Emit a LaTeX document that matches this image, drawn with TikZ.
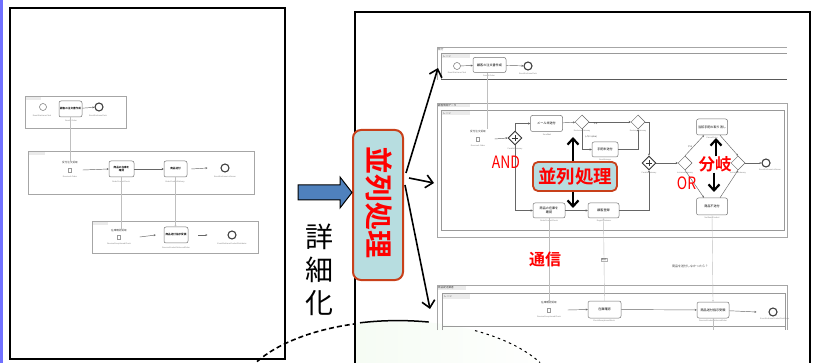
\documentclass[tikz,border=0pt]{standalone}
\usepackage{fontspec}
\setmainfont{Liberation Sans}
\newfontfamily\cjk{Noto Sans CJK JP}[BoldFont={Noto Sans CJK JP Bold}]
\usetikzlibrary{shapes.geometric,arrows.meta,calc}
\definecolor{boxfill}{RGB}{183,221,224}
\definecolor{boxline}{RGB}{200,64,26}
\definecolor{blockblue}{RGB}{79,129,189}
\definecolor{edgeblue}{RGB}{112,112,255}
\definecolor{lensgreen}{RGB}{243,251,241}
\newcommand\andplus[1]{\draw[line width=0.8pt,black!80] ([xshift=-3.2pt]#1.center) -- ([xshift=3.2pt]#1.center) ([yshift=-3.2pt]#1.center) -- ([yshift=3.2pt]#1.center);}
\tikzset{
  bpool/.style={draw=black!35,line width=0.6pt},
  blane/.style={draw=black!40,line width=0.5pt},
  btab/.style={fill=black!8},
  btask/.style={draw=black!55,rounded corners=2pt,fill=white,line width=0.5pt,inner sep=0pt,align=center,font=\cjk\fontsize{3.1}{3.6}\selectfont},
  btaskL/.style={btask,font=\cjk\bfseries\fontsize{2.6}{3}\selectfont},
  bev/.style={circle,draw=black!55,minimum size=7pt,inner sep=0pt,line width=0.5pt,fill=white},
  bevend/.style={bev,minimum size=8pt,line width=1.1pt,draw=black!75},
  bmsgev/.style={draw=black!40,minimum width=3pt,minimum height=4pt,inner sep=0pt},
  bgw/.style={diamond,draw=black!60,minimum size=14pt,inner sep=0pt,fill=white,line width=0.5pt},
  bgwand/.style={bgw,line width=0.9pt,draw=black!80},
  bflow/.style={draw=black!60,line width=0.45pt,-{Stealth[length=2pt,width=2pt]}},
  bmsg/.style={draw=black!25,line width=0.4pt},
  blbl/.style={font=\fontsize{2}{2.4}\selectfont,text=black!50,inner sep=0pt},
  bjp/.style={font=\cjk\fontsize{2.6}{3}\selectfont,text=black!75,inner sep=0pt},
  redtxt/.style={text=red,inner sep=0pt},
  bigarr/.style={draw=black,line width=1.6pt,-{Straight Barb[length=7pt,width=13pt]}},
  thkarr/.style={draw=black,line width=2.2pt,-{Straight Barb[length=6pt,width=11pt]}},
  panel/.style={draw=black,line width=2.4pt}
}
\begin{document}
\begin{tikzpicture}[x=1pt,y=-1pt]
\useasboundingbox (0,0) rectangle (816,363);
\fill[white] (0,0) rectangle (816,363);
\fill[edgeblue] (0,0) rectangle (3,363);

% ===== lens (green area) =====
\begin{scope}
\clip (356,322) rectangle (809,363);
\clip (398,401) ellipse [x radius=162, y radius=80];
\shade[left color=lensgreen,right color=white] (300,321) rectangle (560,482);
\end{scope}

% ===== left panel =====
\draw[panel] (10,8) rectangle (285,359);

% pool 1
\draw[bpool] (25,96) rectangle (126,128);
\fill[btab] (26,97) rectangle (41,100);
\node[bev] (Ls1) at (43,107) {};
\node[blbl] at (42,116) {EventStartLaneClerk};
\node[btaskL,minimum width=23pt,minimum height=16pt] (Lt1) at (70.5,109) {顧客の注文書作成};
\node[blbl] at (71,121) {SendA Order};
\node[bevend] (Le1) at (99,107) {};
\node[blbl] at (98,116) {EventEndLaneClerk};
\draw[bflow] (Lt1) -- (Le1);

% pool 2
\draw[bpool] (28,151) rectangle (254,194);
\fill[btab] (29,152) rectangle (45,155);
\node[bjp] (Ls2t) at (70,163) {受付注文受取};
\node[bmsgev] (Ls2) at (70,170) {};
\node[blbl] at (70,177) {ReceiveA Order};
\node[btaskL,minimum width=25pt,minimum height=16pt] (Lt2) at (121.5,169) {商品の在庫を\\確認};
\node[blbl] at (121,182) {OrderProductCheck};
\node[btaskL,minimum width=23pt,minimum height=16pt] (Lt3) at (175.5,169) {商品送付};
\node[blbl] at (175,182) {OrderProductDelivery};
\node[bevend] (Le2) at (225,168) {};
\node[blbl] at (225,177) {EventEndLaneLotServer};
\draw[bflow] ($(Ls2.east)+(11,0)$) -- (Lt2.west);
\draw[bflow] (Lt2) -- (Lt3);
\draw[bflow] ([xshift=4pt]Lt3.east) -- ([xshift=-13pt]Le2.west);

% pool 3
\draw[bpool] (92,221) rectangle (258,253);
\fill[btab] (93,222) rectangle (108,225);
\node[bjp] (Ls3t) at (119,231) {在庫確認受取};
\node[bmsgev] (Ls3) at (119,237) {};
\node[blbl] at (119,244) {ReceiveExceptionedCheck};
\node[btaskL,minimum width=24pt,minimum height=16pt] (Lt4) at (176,235) {商品送付指示受領};
\node[blbl] at (176,248) {ReceiveProductDeliveredOrder};
\node[bevend] (Le3) at (232,235) {};
\node[blbl] at (232,244) {EventEndLaneProductDistributor};
\draw[bflow] ($(Ls3.east)+(19,0)$) -- ([xshift=-8pt]Lt4.west);
\draw[bflow] ([xshift=10pt]Lt4.east) -- ([xshift=-20pt]Le3.west);

% message flows (left)
\draw[bmsg] (Lt1.south) -- (Lt1.south |- Ls2t.north);
\draw[bmsg] (Lt2.south) -- (Lt2.south |- Ls3t.north);
\draw[bmsg,-{Stealth[length=1.5pt,width=1.5pt]}] (Lt3.south) -- (Lt3.south |- Lt4.north);

% ===== right panel =====
\draw[panel] (355,12) rectangle (810,372);

% top pool
\draw[bpool] (437,47) -- (787,47);
\draw[bpool] (437,47) -- (437,80);
\draw[blane] (441,53) -- (787,53);
\draw[blane] (441,53) -- (441,79);
\draw[black!65,line width=0.8pt] (441,79) -- (787,79);
\node[bjp,anchor=west] at (438,50) {発行};
\fill[btab] (442,54) rectangle (470,58.5);
\node[bjp,anchor=west] at (443,56.2) {レーン};
\node[bev] (Rs1) at (457,66) {};
\node[blbl] at (457,73) {EventStartLaneClerk};
\node[btask,minimum width=33pt,minimum height=15pt] (Rt1) at (489.5,65) {顧客の注文書作成};
\node[blbl] at (489,76) {SendA Order};
\node[bevend] (Re1) at (528,66) {};
\node[blbl] at (528,74) {EventEndLaneClerk};
\draw[bflow] (Rs1) -- (Rt1);
\draw[bflow] (Rt1) -- (Re1);

% middle pool
\draw[bpool] (437,103) -- (787,103) -- (787,237) -- (437,237) -- cycle;
\draw[blane] (441,110) rectangle (784,230);
\fill[btab] (438,104) rectangle (470,107.5);
\node[bjp,anchor=west] at (438,105.8) {顧客情報データ};
\fill[btab] (442,111) rectangle (470,115.5);
\node[bjp,anchor=west] at (443,113.2) {レーン};
\node[bjp] (Rs2t) at (478,132) {受付注文受取};
\node[bmsgev] (Rs2) at (478,139) {};
\node[blbl] at (478,146) {ReceiveA Order};
\node[bgwand] (Rg1) at (515,138) {};
\andplus{Rg1}
\node[blbl] at (515,148.5) {ParallelGateway};
\draw[bflow] ($(Rs2.east)+(15,0)$) -- (Rg1.west);
\node[btask,minimum width=32pt,minimum height=16pt] (Rt2) at (546.5,123.5) {メール未送付};
\node[blbl] at (547,135) {SendMail};
\draw[bflow] (Rg1.north) |- (Rt2.west);
\node[bgw] (Rg2) at (582,122) {};
\node[blbl] at (582,131) {ExclusiveGateway};
\draw[bflow] (Rt2) -- (Rg2);
\node[bgw] (Rg3) at (638,122) {};
\node[blbl] at (638,131) {ExclusiveGateway};
\draw[bflow] (Rg2) -- node[bjp,pos=0.15,below=1pt,font=\cjk\fontsize{2.2}{2.4}\selectfont] {する} (Rg3);
\node[btask,minimum width=26pt,minimum height=15pt] (Rt3) at (605,149.5) {手配未送付};
\node[blbl] at (605,160) {SendArrange};
\draw[bflow] (Rg2.south) |- (Rt3.west);
\node[bjp,font=\cjk\fontsize{2.2}{2.4}\selectfont] at (591,137) {しない(else)};
\draw[bflow] (Rt3.east) -| (Rg3.south);
\node[bgwand] (Rg4) at (649,163) {};
\andplus{Rg4}
\node[blbl] at (649,173) {ParallelGateway};
\draw[bflow] (Rg3.east) -| (Rg4.north);
\node[btask,minimum width=32pt,minimum height=15pt] (Rt4) at (549,210.5) {商品の在庫を\\確認};
\node[blbl] at (549,221) {OrderProductCheck};
\draw[bflow] (Rg1.south) |- (Rt4.west);
\node[btask,minimum width=31pt,minimum height=15pt] (Rt5) at (603.5,210.5) {顧客登録};
\node[blbl] at (604,221) {RegistCustomer};
\draw[bflow] (Rt4) -- (Rt5);
\draw[bflow] (Rt5.east) -| (Rg4.south);
\node[bgw] (Rg5) at (685,163) {};
\node[blbl] at (685,173) {InclusiveGateway};
\draw[bflow] (Rg4) -- (Rg5);
\node[btask,minimum width=31pt,minimum height=16pt] (Rt6) at (712,127) {当該手配の取り消し};
\node[blbl] at (712,138) {CancelOrder};
\node[btask,minimum width=31pt,minimum height=17pt] (Rt7) at (712,206.5) {商品不送付};
\node[blbl] at (712,218) {NotSendProduct};
\draw[bflow] (Rg5.north) -- node[bjp,pos=0.45,left=1pt,font=\cjk\fontsize{2.2}{2.4}\selectfont] {する} ([xshift=-8pt]Rt6.south);
\draw[bflow] (Rg5.south) -- ([xshift=-8pt]Rt7.north);
\node[bgw] (Rg6) at (738,163) {};
\node[blbl] at (738,173) {InclusiveGateway};
\draw[bflow] ([xshift=8pt]Rt6.south) -- (Rg6.north);
\draw[bflow] ([xshift=8pt]Rt7.north) -- (Rg6.south);
\node[bevend] (Re2) at (766,163) {};
\node[blbl] at (770,170) {EventEndLaneLotServer};
\draw[bflow] (Rg6) -- (Re2);

% bottom pool
\draw[bpool] (437,330) -- (437,285) -- (787,285) -- (787,330);
\draw[blane] (442,330) -- (442,293) -- (785,293) -- (785,330);
\draw[blane] (442,326) -- (785,326);
\fill[btab] (438,286) rectangle (466,289.5);
\node[bjp,anchor=west] at (438,287.8) {商品配送業者};
\fill[btab] (443,294) rectangle (470,298.5);
\node[bjp,anchor=west] at (444,296.2) {レーン};
\node[bjp] (Rs3t) at (549,303) {在庫確認受取};
\node[bmsgev] (Rs3) at (549,310) {};
\node[blbl] at (549,317) {ReceiveExceptionedCheck};
\node[btask,minimum width=33pt,minimum height=17pt] (Rt8) at (604.5,309.5) {在庫確認};
\node[blbl] at (604,321) {CheckExceptionedStock};
\draw[bflow] ($(Rs3.east)+(17,0)$) -- (Rt8.west);
\node[btask,minimum width=32pt,minimum height=16pt] (Rt9) at (713,310) {商品送付指示受領};
\node[blbl] at (713,321) {ReceiveProductDeliveredOrder};
\draw[bflow] (Rt8) -- (Rt9);
\node[bevend] (Re3) at (773,312) {};
\node[blbl,anchor=west] at (760,319) {EventEndLaneProductDistributor};
\draw[bflow] (Rt9) -- ([xshift=-12pt]Re3.west);

% message flows (right)
\draw[bmsg] ([xshift=-2.5pt]Rt1.south) -- ($(Rs2t.north)+(9,-2)$);
\draw[bmsg,-{Stealth[length=1.5pt,width=1.5pt]}] (Rt4.south) -- (Rs3t.north);
\draw[bmsg,-{Stealth[length=1.5pt,width=1.5pt]}] (Rt8.north) -- node[fill=white,draw=black!30,inner sep=0.6pt,font=\cjk\fontsize{2.4}{2.6}\selectfont,text=black!70] {確認} (Rt5.south);
\draw[bmsg,-{Stealth[length=1.5pt,width=1.5pt]}] (Rt7.south) -- (Rt9.north);
\node[bjp,font=\cjk\fontsize{3}{3.4}\selectfont] at (690,266) {商品を送付しなかったら？};
\draw[bmsg] (Rt9.south) -- ($(Rt9.south)+(0,12)$);

% ===== lens outline =====
\draw[black,line width=1.6pt,dash pattern=on 5pt off 3pt] (257,361.6) arc [start angle=-150.5, end angle=-105.4, x radius=162, y radius=80];
\draw[black,line width=1.5pt] (360,322.8) arc [start angle=-103.5, end angle=-79, x radius=162, y radius=80];
\draw[black,line width=1pt,dash pattern=on 2.5pt off 3.5pt] (475,330.6) arc [start angle=-61.6, end angle=-28.7, x radius=162, y radius=80];

% ===== overlays =====
\node[draw=boxline,line width=2pt,fill=boxfill,rounded corners=8pt,minimum width=50pt,minimum height=150pt] (vb) at (378,205) {};
\node[redtxt,rotate=-90,font=\cjk\bfseries\fontsize{28}{28}\selectfont] (vbt) at (379,203) {並列処理};
\node[font=\cjk\fontsize{28}{33}\selectfont,align=center,inner sep=0pt] (shs) at (319,270) {詳\\細\\化};
\draw[fill=blockblue,draw=black,line width=1pt] (298,185) -- (340,185) -- (340,177) -- (vb.west |- 0,192.5) -- (340,208) -- (340,200) -- (298,200) -- cycle;

\coordinate (a1) at (438,68);
\coordinate (a2) at (434,183);
\coordinate (a3) at (430,309);
\draw[bigarr] ($(vb.east)+(2,-32)$) -- (a1);
\draw[bigarr] ($(vb.east)+(5,-27)$) -- (a2);
\draw[bigarr] ($(vb.east)+(1,-20)$) -- (a3);

\node[redtxt,font=\cjk\fontsize{17}{17}\selectfont,xscale=0.82] (andt) at (506,162) {AND};
\node[draw=boxline,line width=1.8pt,fill=boxfill,rounded corners=5pt,minimum width=84pt,minimum height=29pt,inner sep=0pt] (pb) at (575,176.5) {};
\node[redtxt,font=\cjk\bfseries\fontsize{18.5}{18.5}\selectfont] (pbt) at (pb.center) {並列処理};
\coordinate (pu) at (573,137);
\coordinate (pd) at (573,208);
\draw[thkarr] ([xshift=-2pt]pb.north) -- (pu);
\draw[thkarr] ([xshift=-2pt]pb.south) -- (pd);

\node[redtxt,font=\cjk\bfseries\fontsize{16.5}{16.5}\selectfont] (bk) at (715,164.5) {分岐};
\node[redtxt,font=\cjk\fontsize{17}{17}\selectfont,xscale=0.82] (ort) at (686.5,183) {OR};
\coordinate (bu) at (716,138);
\coordinate (bd) at (714,192);
\draw[thkarr] ([xshift=1pt]bk.north) -- (bu);
\draw[thkarr] ([xshift=-1pt]bk.south) -- (bd);

\node[redtxt,font=\cjk\bfseries\fontsize{16}{16}\selectfont] (tsu) at (545,259) {通信};
\end{tikzpicture}
\end{document}
